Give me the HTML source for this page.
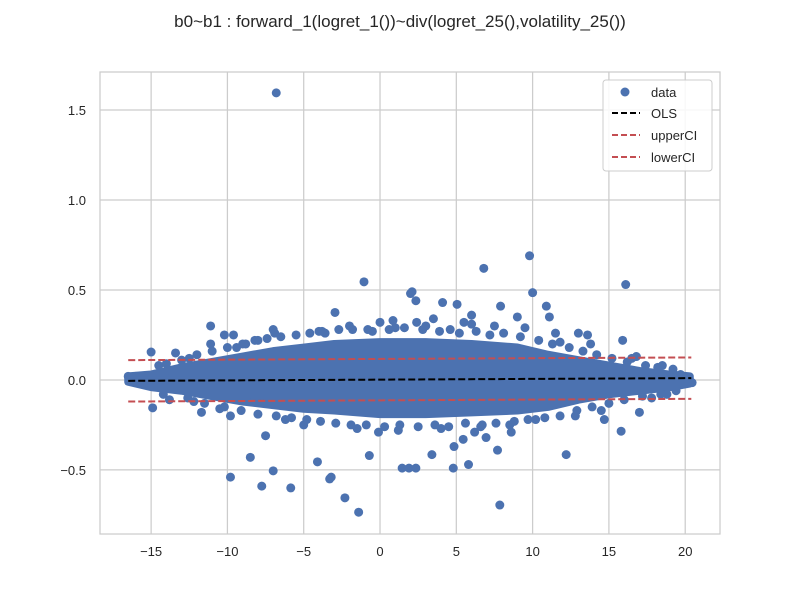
<!DOCTYPE html>
<html><head><meta charset="utf-8"><style>
body{margin:0;background:#fff;}
svg text{font-family:"Liberation Sans",Arial,sans-serif;fill:#262626;}
</style></head><body>
<svg id="chart" width="800" height="600" xmlns="http://www.w3.org/2000/svg">
<text x="400" y="27" font-size="17" text-anchor="middle">b0~b1 : forward_1(logret_1())~div(logret_25(),volatility_25())</text>
<rect x="100" y="72" width="620" height="462" fill="#fff"/>
<g id="grid"></g><g id="marks"></g><g id="lines"></g>
<rect x="100" y="72" width="620" height="462" fill="none" stroke="#ccc" stroke-width="1.25"/>
<g id="ticks"></g>
<g>
<rect x="603" y="80" width="109" height="91" rx="3" fill="#fff" fill-opacity="0.85" stroke="#ccc"/>
<circle cx="625" cy="92" r="4.5" fill="#4c72b0"/>
<text x="651" y="97" font-size="13">data</text>
<line x1="612" x2="640" y1="113" y2="113" stroke="#000" stroke-width="2" stroke-dasharray="6,3"/>
<text x="651" y="118" font-size="13">OLS</text>
<line x1="612" x2="640" y1="135" y2="135" stroke="#c44e52" stroke-width="2" stroke-dasharray="6,3"/>
<text x="651" y="140" font-size="13">upperCI</text>
<line x1="612" x2="640" y1="157" y2="157" stroke="#c44e52" stroke-width="2" stroke-dasharray="6,3"/>
<text x="651" y="162" font-size="13">lowerCI</text>
</g>
</svg>
<script>
const xTicks=[-15,-10,-5,0,5,10,15,20];
const yTicks=[-0.5,0.0,0.5,1.0,1.5];
const yTickLabels=["\u22120.5","0.0","0.5","1.0","1.5"];
const coreX=[-16.5,-15,-13,-11,-9,-7,-5,-3,0,3,6,9,11,13,15,17,19,20.3];
const coreUpper=[0.02,0.03,0.07,0.1,0.13,0.16,0.18,0.2,0.21,0.21,0.2,0.18,0.14,0.11,0.08,0.05,0.03,0.02];
const coreLower=[-0.01,-0.04,-0.06,-0.09,-0.12,-0.14,-0.16,-0.17,-0.19,-0.19,-0.18,-0.17,-0.15,-0.11,-0.08,-0.06,-0.04,-0.02];
const ptX=[-6.8,9.8,6.8,-1.05,16.1,2.1,2.0,10.0,2.35,5.05,-7.0,-6.9,-11.1,-10.2,-9.6,-2.95,-15,-16.5,-16,-14.9,-13.8,-11.7,-9.8,-9.8,-8.5,-7.75,-7,-5.85,-4.1,-3.3,-3.2,-2.3,-1.4,-0.7,-0.1,-7.5,1.45,1.9,2.35,3.4,4.8,4.85,5.45,5.8,6.2,6.95,7.7,7.85,8.6,12.2,14.7,15.8,17,18.8,19.7,20.45,4.1,7.9,10.9,11.1,6.0,9.0,15.9,13.0,13.6,-11.1,-13.4,-9.4,0.85,0,2.4,-12.5,-8,-4,-2,1,3.5,5.5,7.5,9.5,11.5,13.8,16.5,-12.2,-10.5,-6.2,-5,-1.5,1.2,4,6.6,8.5,10.2,12.8,14.5,17.8,18.5,-14,-8.8,-3.6,-0.8,3,6,11.8,16.8,
-14.5,-13,-12,-11,-10,-9,-8.2,-7.4,-6.5,-5.5,-4.6,-3.8,-2.7,-1.8,-0.5,0.6,1.6,2.8,3.9,4.6,5.2,6.3,7.2,8.1,9.2,10.4,11.3,12.4,13.3,14.2,15.2,16.2,17.4,18.2,19.2,
-14.2,-12.6,-11.5,-10.2,-9.1,-8.0,-6.8,-5.8,-4.8,-3.9,-2.9,-1.9,-0.9,0.3,1.3,2.5,3.6,4.5,5.6,6.7,7.6,8.8,9.7,10.8,11.8,12.9,13.9,15.0,16.0,17.2,18.4,19.4];
const ptY=[1.595,0.69,0.62,0.545,0.53,0.49,0.48,0.485,0.44,0.42,0.28,0.26,0.3,0.25,0.25,0.375,0.155,0.02,0.02,-0.155,-0.11,-0.18,-0.2,-0.54,-0.43,-0.59,-0.505,-0.6,-0.455,-0.55,-0.54,-0.655,-0.735,-0.42,-0.29,-0.31,-0.49,-0.49,-0.49,-0.415,-0.49,-0.37,-0.33,-0.47,-0.29,-0.32,-0.39,-0.695,-0.29,-0.415,-0.22,-0.285,-0.18,-0.08,0.03,-0.015,0.43,0.41,0.41,0.35,0.36,0.35,0.22,0.26,0.25,0.2,0.15,0.18,0.33,0.32,0.32,0.12,0.22,0.27,0.3,0.29,0.34,0.32,0.3,0.29,0.26,0.2,0.12,-0.12,-0.16,-0.22,-0.25,-0.27,-0.28,-0.27,-0.26,-0.25,-0.22,-0.2,-0.17,-0.1,0.08,0.09,0.2,0.26,0.28,0.3,0.31,0.21,0.13,
0.08,0.11,0.14,0.16,0.18,0.2,0.22,0.23,0.24,0.25,0.26,0.27,0.28,0.28,0.27,0.28,0.29,0.28,0.27,0.28,0.26,0.27,0.25,0.26,0.24,0.22,0.2,0.18,0.16,0.14,0.12,0.1,0.08,0.07,0.06,
-0.08,-0.1,-0.13,-0.15,-0.17,-0.19,-0.2,-0.21,-0.22,-0.23,-0.24,-0.25,-0.25,-0.26,-0.25,-0.26,-0.25,-0.26,-0.24,-0.25,-0.24,-0.23,-0.22,-0.21,-0.2,-0.17,-0.15,-0.13,-0.11,-0.09,-0.08,-0.06];
const olsX=[-16.5,20.4], olsY=[-0.005,0.01];
const upX=[-16.5,20.4], upY=[0.11,0.125];
const loX=[-16.5,20.4], loY=[-0.12,-0.105];
const X0=-18.35,X1=22.28,Y0=-0.856,Y1=1.711,L=100,R=720,T=72,B=534;
const sx=v=>L+(v-X0)/(X1-X0)*(R-L);
const sy=v=>B-(v-Y0)/(Y1-Y0)*(B-T);
const NS="http://www.w3.org/2000/svg";
function mk(tag,attrs,parent){const e=document.createElementNS(NS,tag);for(const k in attrs)e.setAttribute(k,attrs[k]);document.getElementById(parent).appendChild(e);return e;}
xTicks.forEach(v=>{
 const g=mk('line',{x1:sx(v),x2:sx(v),y1:T,y2:B,stroke:'#ccc','stroke-width':1.25},'grid');
 
 
 const t=mk('text',{x:sx(v),y:B+22,'font-size':13,'text-anchor':'middle'},'ticks');
 t.textContent=v<0?'\u2212'+(-v):String(v);
 
 
});
yTicks.forEach((v,i)=>{
 const g=mk('line',{x1:L,x2:R,y1:sy(v),y2:sy(v),stroke:'#ccc','stroke-width':1.25},'grid');
 
 
 const t=mk('text',{x:L-14,y:sy(v)+5,'font-size':13,'text-anchor':'end'},'ticks');
 t.textContent=yTickLabels[i];
 
 
});
let d='';
coreX.forEach((x,i)=>{d+=(i?'L':'M')+sx(x)+','+sy(coreUpper[i]);});
for(let i=coreX.length-1;i>=0;i--)d+='L'+sx(coreX[i])+','+sy(coreLower[i]);
const core=mk('path',{d:d+'Z',fill:'#4c72b0',stroke:'#4c72b0','stroke-width':8,'stroke-linejoin':'round'},'marks');


ptX.forEach((x,i)=>{
 const c=mk('circle',{cx:sx(x),cy:sy(ptY[i]),r:4.5,fill:'#4c72b0'},'marks');
 
 
});
[[olsX,olsY,'#000','ols-line'],[upX,upY,'#c44e52','upper-ci-line'],[loX,loY,'#c44e52','lower-ci-line']].forEach(s=>{
 const l=mk('line',{x1:sx(s[0][0]),x2:sx(s[0][1]),y1:sy(s[1][0]),y2:sy(s[1][1]),stroke:s[2],'stroke-width':2,'stroke-dasharray':'7,3'},'lines');
 
 
});
</script>
</body></html>
